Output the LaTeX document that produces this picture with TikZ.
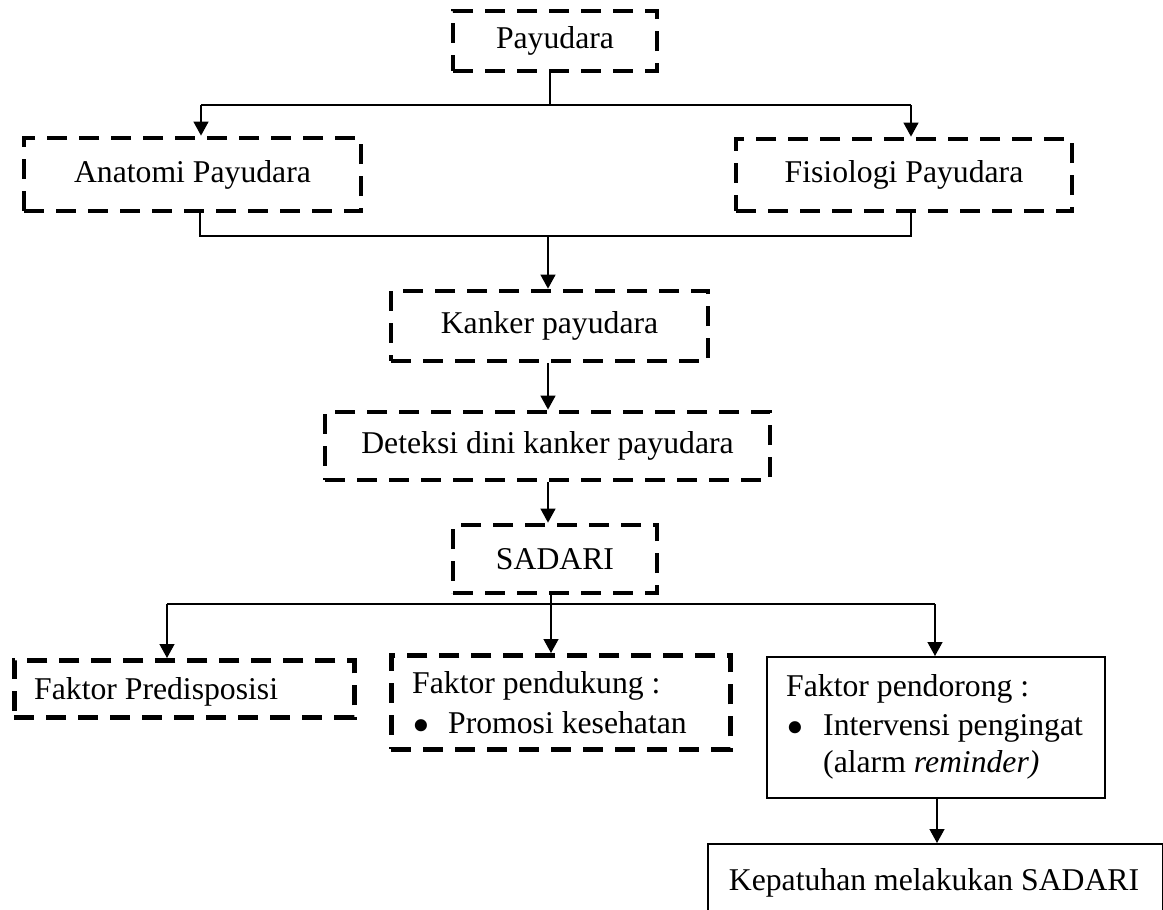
\documentclass[tikz,border=0pt]{standalone}
\usepackage{fontspec}
\setmainfont{Liberation Serif}
\usetikzlibrary{arrows.meta}
\newcommand{\bigbul}{\raisebox{-0.3em}{\scalebox{1.6}{•}}}
\begin{document}
\begin{tikzpicture}[x=1pt,y=-1pt,
  font=\fontsize{31.7}{38}\selectfont,
  dbox/.style={draw, line width=4.8pt, dash pattern=on 20pt off 12pt, inner sep=0pt},
  sbox/.style={draw, line width=1.5pt, inner sep=0pt},
  conn/.style={line width=1.4pt},
  arr/.style={conn, -{Triangle[length=14pt,width=15pt]}},
  txt/.style={anchor=base west, inner sep=0pt}
]
\clip (0,0) rectangle (1163,910);
\fill[white] (0,0) rectangle (1163,910);

% boxes
\node[dbox, minimum width=204pt, minimum height=60pt] (payudara) at (555,41) {Payudara};
\node[dbox, minimum width=337pt, minimum height=73pt] (anatomi) at (192.5,174.5) {Anatomi Payudara};
\node[dbox, minimum width=336pt, minimum height=72pt] (fisiologi) at (904,175) {Fisiologi Payudara};
\node[dbox, minimum width=317pt, minimum height=70pt] (kanker) at (549.5,326) {Kanker payudara};
\node[dbox, minimum width=445pt, minimum height=68pt] (deteksi) at (547.5,446) {Deteksi dini kanker payudara};
\node[dbox, minimum width=204pt, minimum height=68pt] (sadari) at (555,559) {SADARI};

\node[dbox, minimum width=340pt, minimum height=57pt, anchor=north west] (predis) at (12,658) {};
\node[txt] (predis-t) at (34,699) {Faktor Predisposisi};

\node[dbox, minimum width=339pt, minimum height=94pt, anchor=north west] (pendukung) at (389,653) {};
\node[txt] (pendukung-t1) at (412,693) {Faktor pendukung :};
\node[txt] (pendukung-b) at (412,733) {\bigbul};
\node[txt] (pendukung-t2) at (448,733) {Promosi kesehatan};

\node[sbox, minimum width=338pt, minimum height=141pt, anchor=north west] (pendorong) at (766,656) {};
\node[txt] (pendorong-t1) at (786,696) {Faktor pendorong :};
\node[txt] (pendorong-b) at (786,735) {\bigbul};
\node[txt] (pendorong-t2) at (823,735) {Intervensi pengingat};
\node[txt] (pendorong-t3) at (823,772) {(alarm \textit{reminder)}};

\node[sbox, minimum width=455pt, minimum height=100pt, anchor=north west] (kepatuhan) at (707,843) {};
\node[anchor=base, inner sep=0pt] (kepatuhan-t) at (934,890) {Kepatuhan melakukan SADARI};

% connectors
\coordinate (j1) at (550,105);
\coordinate (j1l) at (201,105);
\coordinate (j1r) at (911,105);
\draw[conn] (payudara.south -| j1) -- (j1);
\draw[conn] (j1l) -- (j1r);
\draw[arr] (j1l) -- (j1l |- anatomi.north);
\draw[arr] (j1r) -- (j1r |- fisiologi.north);

\coordinate (j2l) at (200,236);
\coordinate (j2r) at (911,236);
\coordinate (j2) at (548,236);
\draw[conn] (j2l |- anatomi.south) -- (j2l) -- (j2r) -- (j2r |- fisiologi.south);
\draw[arr] (j2) -- (j2 |- kanker.north);
\draw[arr] (kanker.south -| j2) -- (deteksi.north -| j2);
\draw[arr] (deteksi.south -| j2) -- (sadari.north -| j2);

\coordinate (j3) at (551,604);
\coordinate (j3l) at (167,604);
\coordinate (j3r) at (935,604);
\draw[conn] (sadari.south -| j3) -- (j3);
\draw[conn] (j3l) -- (j3r);
\draw[arr] (j3l) -- (j3l |- predis.north);
\draw[arr] (j3) -- (j3 |- pendukung.north);
\draw[arr] (j3r) -- (j3r |- pendorong.north);

\coordinate (j4) at (937,800);
\draw[arr] (pendorong.south -| j4) -- (kepatuhan.north -| j4);
\end{tikzpicture}
\end{document}
